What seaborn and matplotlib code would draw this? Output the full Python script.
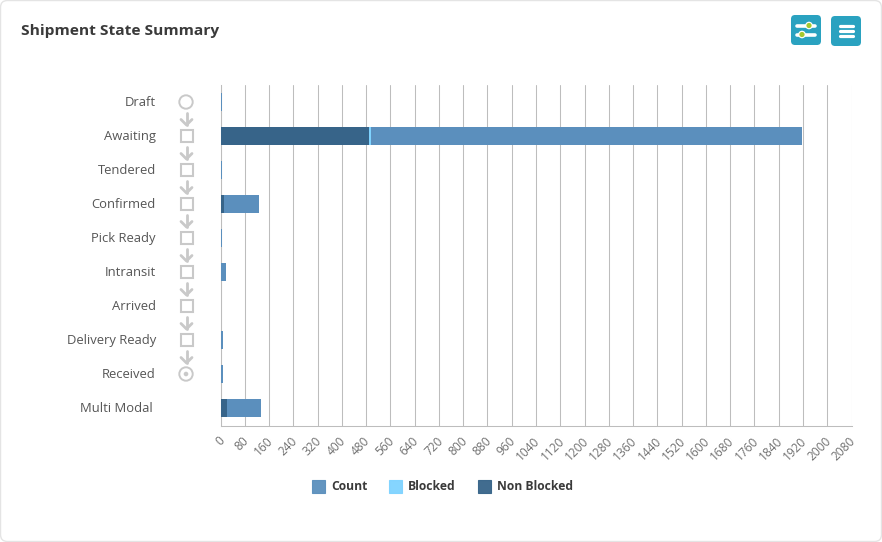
import matplotlib
matplotlib.use("Agg")
import matplotlib.pyplot as plt
from matplotlib.patches import Circle, FancyBboxPatch, Rectangle
from matplotlib.lines import Line2D
from matplotlib.transforms import ScaledTranslation
import numpy as np
import seaborn as sns

states = ["Draft", "Awaiting", "Tendered", "Confirmed", "Pick Ready", "Intransit",
          "Arrived", "Delivery Ready", "Received", "Multi Modal "]
non_blocked = [0, 489, 0, 10, 0, 0, 0, 0, 0, 21]
blocked = [0, 6, 0, 0, 0, 0, 0, 0, 0, 0]
count = [5, 1422, 5, 117, 5, 18, 0, 8, 8, 112]
x_ticks = list(range(0, 2081, 80))

count_col = "#5b8fbd"
blocked_col = "#7fd3ff"
non_blocked_col = "#376489"
grid_col = "#bdbdbd"
icon_col = "#c9c9c9"

sns.set_theme(style="white")
plt.rcParams["font.family"] = ["Open Sans", "DejaVu Sans"]

W, H = 882, 542
fig = plt.figure(figsize=(W / 100, H / 100), dpi=100, facecolor="white")
ax = fig.add_axes([220.5 / W, 1 - 425.5 / H, 631 / W, 340.5 / H])

# stacked bars, drawn back to front
upto_blocked = np.array(non_blocked) + np.array(blocked)
total = upto_blocked + np.array(count)
for vals, col in [(total, count_col), (upto_blocked, blocked_col), (non_blocked, non_blocked_col)]:
    sns.barplot(x=vals, y=states, color=col, saturation=1, width=0.53, ax=ax, zorder=3,
                linewidth=0, edgecolor="none")

ax.set_xlim(0, 2080)
ax.set_ylim(9.5, -0.5)
ax.set_xticks(x_ticks)
ax.set_xticklabels(x_ticks, rotation=45, ha="right", rotation_mode="anchor",
                   fontsize=8.6, color="#707070")
ax.tick_params(axis="x", length=0, pad=6.5)
ax.tick_params(axis="y", length=0, pad=46.5, labelsize=9.4, labelcolor="#555555")
ax.grid(axis="x", color=grid_col, lw=0.75)
ax.set_axisbelow(True)
sns.despine(ax=ax, top=True, right=True)
for s in ["left", "bottom"]:
    ax.spines[s].set_color(grid_col)
    ax.spines[s].set_linewidth(0.75)

# small nudges of the tick labels, in pixels
for lab in ax.get_xticklabels():
    lab.set_transform(lab.get_transform() + ScaledTranslation(-2.5 / 100, 0, fig.dpi_scale_trans))
for lab in ax.get_yticklabels():
    lab.set_transform(lab.get_transform() + ScaledTranslation(0, 1 / 100, fig.dpi_scale_trans))

# overlay in pixel coordinates for the card, icons and legend
ov = fig.add_axes([0, 0, 1, 1], facecolor="none")
ov.set_xlim(0, W)
ov.set_ylim(H, 0)
ov.axis("off")

ov.add_patch(FancyBboxPatch((0.5, 0.5), W - 1, H - 1, boxstyle="round,pad=0,rounding_size=7",
                            fc="none", ec="#e4e4e4", lw=1))
ov.text(21, 31.5, "Shipment State Summary", fontsize=11.15, fontweight="bold", color="#3a3a3a",
        va="center", ha="left")

# toolbar buttons
ov.add_patch(FancyBboxPatch((791, 15), 30, 30, boxstyle="round,pad=0,rounding_size=4",
                            fc="#2aa2c0", ec="none"))
ov.add_patch(FancyBboxPatch((831, 16), 30, 30, boxstyle="round,pad=0,rounding_size=4",
                            fc="#2aa2c0", ec="none"))
for y, dot in [(25.5, 809), (34.5, 802)]:
    ov.add_line(Line2D([797, 815], [y, y], color="white", lw=2.6, solid_capstyle="round"))
    ov.add_patch(Circle((dot, y), 3.8, fc="white", ec="none", zorder=4))
    ov.add_patch(Circle((dot, y), 2.6, fc="#a5c82d", ec="none", zorder=5))
for y in [26, 31, 36]:
    ov.add_line(Line2D([839.5, 852.5], [y, y], color="white", lw=2.3, solid_capstyle="round"))

# workflow icons
rows = 102 + 34 * np.arange(9)
for i, y in enumerate(rows):
    if i == 0 or i == 8:
        ov.add_patch(Circle((186, y), 6.7, fc="white", ec=icon_col, lw=1.4))
        if i == 8:
            ov.add_patch(Circle((186, y), 2.3, fc=icon_col, ec="none"))
    else:
        ov.add_patch(Rectangle((180.5, y - 6), 12, 12, fc="white", ec=icon_col, lw=1.5))
    if i < 8:
        ov.add_line(Line2D([186.5, 186.5], [y + 11, y + 23], color=icon_col, lw=2))
        ov.add_line(Line2D([181, 186.5, 192], [y + 17.5, y + 23, y + 17.5], color=icon_col, lw=2))

# legend
for x, name, col in [(311, "Count", count_col), (388, "Blocked", blocked_col),
                     (477, "Non Blocked", non_blocked_col)]:
    ov.add_patch(Rectangle((x + 0.5, 480), 13, 12.5, fc=col, ec=col, lw=0.8, alpha=0.95))
    ov.text(x + 20, 486.5, name, fontsize=8.7, fontweight="bold", color="#3a3a3a", va="center")

fig.savefig("out.png", dpi=100)
